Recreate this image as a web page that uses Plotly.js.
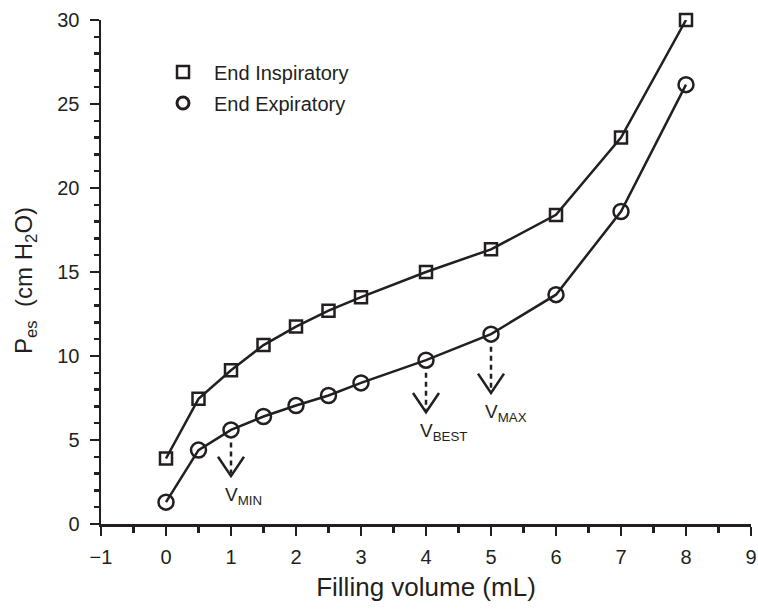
<!DOCTYPE html>
<html>
<head>
<meta charset="utf-8">
<script src="https://cdn.plot.ly/plotly-3.0.1.min.js"></script>
<style>html,body{margin:0;padding:0;background:#fff;}#chart{width:758px;height:610px;}</style>
</head>
<body>
<div id="chart"></div>
<script>
var volumes = [0, 0.5, 1, 1.5, 2, 2.5, 3, 4, 5, 6, 7, 8];
var endInspiratory = [3.9, 7.45, 9.15, 10.65, 11.75, 12.7, 13.5, 15.0, 16.35, 18.4, 23.0, 30.0];
var endExpiratory = [1.3, 4.4, 5.6, 6.4, 7.05, 7.65, 8.4, 9.75, 11.3, 13.65, 18.6, 26.15];
var seriesNames = ['End Inspiratory', 'End Expiratory'];
var arrowLabels = ['MIN', 'BEST', 'MAX'];
var arrowVolumes = [1, 4, 5];
var arrowDrops = [2.75, 3.1, 3.5];

var ink = '#231f20';
var font = 'Arial, "Liberation Sans", Helvetica, sans-serif';

var traces = [
  {x: volumes, y: endInspiratory, mode: 'lines+markers', showlegend: false, cliponaxis: false,
   line: {color: ink, width: 2.5},
   marker: {symbol: 'square-open', size: 12, color: ink, line: {width: 2.5, color: ink}}},
  {x: volumes, y: endExpiratory, mode: 'lines+markers', showlegend: false, cliponaxis: false,
   line: {color: ink, width: 2.5},
   marker: {symbol: 'circle-open', size: 15, color: ink, line: {width: 2.5, color: ink}}},
  {x: [null], y: [null], mode: 'markers', name: seriesNames[0], legend: 'legend',
   marker: {symbol: 'square-open', size: 12, color: ink, line: {width: 2.5, color: ink}}},
  {x: [null], y: [null], mode: 'markers', name: seriesNames[1], legend: 'legend2',
   marker: {symbol: 'circle-open', size: 12, color: ink, line: {width: 3, color: ink}}}
];

var shapes = [];
var annotations = [];
for (var i = 0; i < arrowVolumes.length; i++) {
  var xv = arrowVolumes[i];
  var yc = endExpiratory[volumes.indexOf(xv)];
  var tip = yc - arrowDrops[i];
  shapes.push({type: 'line', xref: 'x', yref: 'y', x0: xv, x1: xv, y0: yc - 0.75, y1: tip + 0.15,
    line: {color: ink, width: 2.5, dash: '5px,4px'}});
  shapes.push({type: 'path', xref: 'x', yref: 'y',
    path: 'M ' + (xv - 0.2) + ' ' + (tip + 1.15) + ' L ' + xv + ' ' + tip + ' L ' + (xv + 0.2) + ' ' + (tip + 1.15),
    line: {color: ink, width: 2.5}});
  annotations.push({x: xv, y: tip, xref: 'x', yref: 'y', xanchor: 'left', yanchor: 'top',
    xshift: -8, yshift: -6, showarrow: false,
    text: 'V<sub>' + arrowLabels[i] + '</sub>', font: {family: font, size: 19, color: ink}});
}
annotations.push({xref: 'paper', yref: 'paper', x: (26 - 101) / 650, y: (524 - 281) / 504,
  xanchor: 'center', yanchor: 'middle', textangle: -90, showarrow: false,
  text: 'P<sub>es</sub>  (cm H<sub>2</sub>O)', font: {family: font, size: 24, color: ink}});

var legendStyle = function (yPaper) {
  return {x: (152 - 101) / 650, y: yPaper, xanchor: 'left', yanchor: 'middle', bgcolor: 'rgba(0,0,0,0)',
    font: {family: font, size: 20, color: ink}, itemwidth: 52, borderwidth: 0};
};

var layout = {
  width: 758, height: 610,
  margin: {l: 101, r: 7, t: 20, b: 86},
  paper_bgcolor: '#fff', plot_bgcolor: '#fff',
  font: {family: font, color: ink},
  showlegend: true,
  legend: legendStyle((524 - 72) / 504),
  legend2: legendStyle((524 - 103) / 504),
  xaxis: {
    range: [-1, 9], dtick: 1, tick0: 0, showgrid: false, zeroline: false,
    showline: true, linecolor: ink, linewidth: 2.5,
    ticks: 'outside', ticklen: 9, tickwidth: 2.5, tickcolor: ink, ticklabelstandoff: 4,
    minor: {dtick: 0.5, ticks: 'outside', ticklen: 6, tickwidth: 2.5, tickcolor: ink, showgrid: false},
    tickfont: {family: font, size: 20, color: ink},
    title: {text: 'Filling volume (mL)', font: {family: font, size: 26, color: ink}, standoff: 12}
  },
  yaxis: {
    range: [0, 30], dtick: 5, showgrid: false, zeroline: false,
    showline: true, linecolor: ink, linewidth: 2.5,
    ticks: 'outside', ticklen: 9, tickwidth: 2.5, tickcolor: ink, ticklabelstandoff: 6,
    minor: {dtick: 1, ticks: 'outside', ticklen: 5, tickwidth: 2.5, tickcolor: ink, showgrid: false},
    tickfont: {family: font, size: 20, color: ink}
  },
  shapes: shapes,
  annotations: annotations
};

Plotly.newPlot('chart', traces, layout, {displayModeBar: false, staticPlot: true});
</script>
</body>
</html>
